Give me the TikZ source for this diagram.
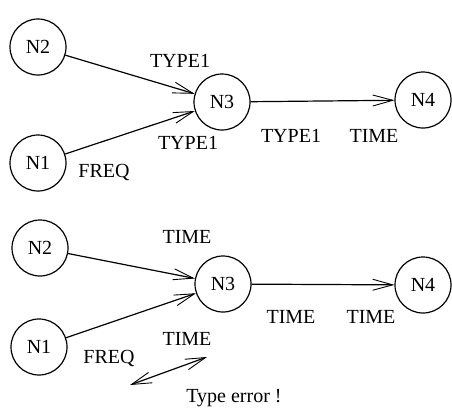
\documentclass[tikz,border=0pt]{standalone}
\usepackage{fontspec}
\setmainfont{Liberation Serif}
\usetikzlibrary{arrows.meta}
\begin{document}
\begin{tikzpicture}[x=1pt,y=-1pt,
  >={Straight Barb[length=20pt,width=11pt,line width=0.9pt]},
  nd/.style={draw,circle,minimum size=56pt,inner sep=0pt,line width=1.2pt,
    font=\fontsize{20}{20}\selectfont},
  lbl/.style={font=\fontsize{20}{20}\selectfont,inner sep=0pt},
  conn/.style={line width=1.2pt,->},
  dconn/.style={line width=1.2pt,<->},
]
\useasboundingbox (0,0) rectangle (452,410);

% upper network: consistent types
\node[nd] (a2) at (38,47) {N2};
\node[nd] (a1) at (38,163) {N1};
\node[nd] (a3) at (222,102) {N3};
\node[nd] (a4) at (423,100) {N4};
\draw[conn] (a2) -- (a3);
\draw[conn] (a1) -- (a3);
\draw[conn] (a3) -- (a4);
\node[lbl] (t1) at (180,61) {TYPE1};
\node[lbl] (t2) at (188,143) {TYPE1};
\node[lbl] (t3) at (104,172) {FREQ};
\node[lbl] (t4) at (291,136) {TYPE1};
\node[lbl] (t5) at (374,136) {TIME};

% lower network: conflicting types
\node[nd] (b2) at (40,248) {N2};
\node[nd] (b1) at (39,347) {N1};
\node[nd] (b3) at (223,284) {N3};
\node[nd] (b4) at (423,285) {N4};
\draw[conn] (b2) -- (b3);
\draw[conn] (b1) -- (b3);
\draw[conn] (b3) -- (b4);
\node[lbl] (u1) at (187,237) {TIME};
\node[lbl] (u2) at (187,339) {TIME};
\node[lbl] (u3) at (109,358) {FREQ};
\node[lbl] (u4) at (291,317) {TIME};
\node[lbl] (u5) at (371,317) {TIME};

% mismatch marker
\coordinate (e1) at (130,385);
\coordinate (e2) at (207,357);
\draw[dconn] (e1) -- (e2);
\node[lbl] (err) at (234,398) {Type error !};
\end{tikzpicture}
\end{document}
